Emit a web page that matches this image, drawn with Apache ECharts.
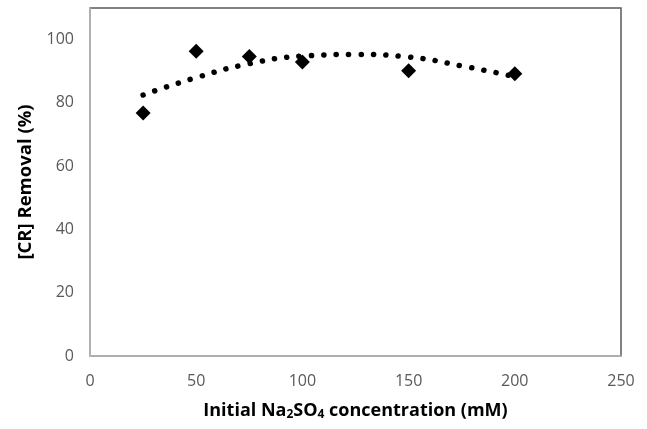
<!DOCTYPE html>
<html>
<head>
<meta charset="utf-8">
<script src="https://cdn.jsdelivr.net/npm/echarts@6/dist/echarts.min.js"></script>
<style>
  html, body { margin: 0; padding: 0; background: #fff; }
  #chart { width: 647px; height: 429px; }
</style>
</head>
<body>
<div id="chart"></div>
<script>
// measured points
const conc = [25, 50, 75, 100, 150, 200]
const removal = [76.8, 96.3, 94.7, 92.9, 90.2, 89.2]
// polynomial trendline
const trendX = [25, 50, 75, 100, 125, 150, 175, 200]
const trendY = [82.5, 88.0, 92.4, 94.8, 95.3, 94.5, 91.7, 88.3]
const xTicks = [0, 50, 100, 150, 200, 250]
const yTicks = [0, 20, 40, 60, 80, 100]

const chart = echarts.init(document.getElementById('chart'))
const labelFont = { color: '#595959', fontSize: 16, fontFamily: 'Open Sans' }

chart.setOption({
  animation: false,
  grid: {
    left: 90,
    right: 26,
    top: 8,
    bottom: 73,
    show: true,
    borderColor: '#595959',
    borderWidth: 1.5
  },
  xAxis: {
    type: 'value',
    min: xTicks[0],
    max: xTicks[xTicks.length - 1],
    interval: 50,
    name: 'Initial Na{sub|2}SO{sub|4} concentration (mM)',
    nameLocation: 'middle',
    nameGap: 44,
    nameTextStyle: {
      color: '#000',
      fontSize: 18,
      fontWeight: 'bold',
      fontFamily: 'Open Sans',
      rich: {
        sub: { fontSize: 12, fontWeight: 'bold', color: '#000', fontFamily: 'Open Sans', verticalAlign: 'bottom', padding: [9, 0, 0, 0] }
      }
    },
    axisLine: { lineStyle: { color: '#bfbfbf', width: 1.5 } },
    axisTick: { show: false },
    splitLine: { show: false },
    axisLabel: Object.assign({ margin: 17 }, labelFont)
  },
  yAxis: {
    type: 'value',
    min: yTicks[0],
    max: 110,
    interval: 20,
    name: '[CR] Removal (%)',
    nameLocation: 'middle',
    nameGap: 38,
    nameTextStyle: { color: '#000', fontSize: 18.5, fontWeight: 'bold', fontFamily: 'Open Sans' },
    axisLine: { show: true, lineStyle: { color: '#bfbfbf', width: 1.5 } },
    axisTick: { show: false },
    splitLine: { show: false },
    axisLabel: Object.assign({
      margin: 16,
      showMaxLabel: false,
      formatter: function (v) { return yTicks.indexOf(v) >= 0 ? String(v) : '' }
    }, labelFont)
  },
  series: [
    {
      type: 'line',
      data: trendX.map((x, i) => [x, trendY[i]]),
      smooth: true,
      showSymbol: false,
      lineStyle: { color: '#000', width: 5.5, type: [0.1, 12.3], cap: 'round', opacity: 1 },
      z: 1
    },
    {
      type: 'scatter',
      data: conc.map((x, i) => [x, removal[i]]),
      symbol: 'diamond',
      symbolSize: 15,
      itemStyle: { color: '#000', opacity: 1 },
      z: 2
    }
  ]
})
</script>
</body>
</html>
